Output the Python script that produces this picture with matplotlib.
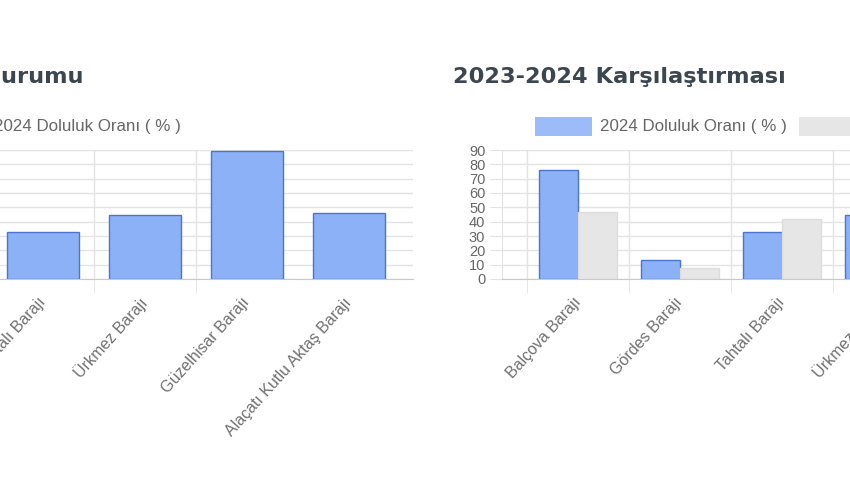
import matplotlib
matplotlib.use("Agg")
import matplotlib.pyplot as plt
from matplotlib.patches import Rectangle
import numpy as np

# Data
dams = ["Balçova Barajı", "Gördes Barajı", "Tahtalı Barajı", "Ürkmez Barajı",
        "Güzelhisar Barajı", "Alaçatı Kutlu Aktaş Barajı"]
fill_2024 = [76, 13, 33, 45, 89, 46]
fill_2023 = [47, 8, 42, 40, 70, 35]
y_ticks = [0, 10, 20, 30, 40, 50, 60, 70, 80, 90]

W, H = 850, 478
BLUE = "#8db1f7"
BLUE_EDGE = "#4a74d2"
GRAY = "#e6e6e6"
GRAY_EDGE = "#dcdcdc"
GRID = "#e3e3e3"
TXT = "#666666"
TITLE = "#3c4650"

plt.rcParams["font.family"] = ["Liberation Sans", "DejaVu Sans"]

fig = plt.figure(figsize=(W / 100, H / 100), dpi=100)
fig.patch.set_facecolor("white")


def fx(px):
    return px / W


def fy(py):
    return 1 - py / H


def make_axes(left_px):
    # plot area 650 px wide, between y=150 (90) and y=279 (0)
    ax = fig.add_axes([fx(left_px), fy(279), 650 / W, 129 / H])
    ax.set_xlim(-0.745, 5.627)
    ax.set_ylim(0, 90)
    ax.set_yticks(y_ticks)
    ax.yaxis.grid(True, color=GRID, lw=1)
    ax.set_axisbelow(True)
    x = np.arange(len(dams))
    ax.set_xticks(x)
    ax.set_xticklabels(dams, rotation=48, ha="right", va="center",
                       rotation_mode="anchor", color="#707070", fontsize=11.5)
    ax.tick_params(axis="x", length=0, pad=15)
    ax.set_xticks(x[:-1] - 0.5, minor=True)
    ax.xaxis.grid(True, which="minor", color=GRID, lw=1)
    ax.tick_params(axis="x", which="minor", length=10, color=GRID)
    ax.tick_params(axis="y", length=9, color=GRID, labelcolor=TXT,
                   labelsize=10.5, pad=3)
    for s in ["top", "right"]:
        ax.spines[s].set_visible(False)
    ax.spines["left"].set_color(GRID)
    ax.spines["bottom"].set_color("#c9c9c9")
    return ax, x


# Left chart (2024 only)
ax1, x = make_axes(-237)
ax1.bar(x, fill_2024, width=0.71, color=BLUE, edgecolor=BLUE_EDGE, lw=1)

# Right chart (2023 vs 2024)
ax2, x = make_axes(502)
bw = 0.385
ax2.bar(x - bw / 2, fill_2024, width=bw, color=BLUE, edgecolor=BLUE_EDGE, lw=1)
ax2.bar(x + bw / 2, fill_2023, width=bw, color=GRAY, edgecolor=GRAY_EDGE, lw=1)

# Titles
fig.text(fx(84), fy(77), "Barajların Doluluk Durumu", ha="right", va="center",
         fontsize=16.2, fontweight="bold", color=TITLE, family="DejaVu Sans")
fig.text(fx(453), fy(77), "2023-2024 Karşılaştırması", ha="left", va="center",
         fontsize=16.2, fontweight="bold", color=TITLE, family="DejaVu Sans")


# Legends
def legend_item(x0, color, label):
    fig.add_artist(Rectangle((fx(x0), fy(136)), 57 / W, 19 / H,
                             transform=fig.transFigure, color=color, lw=0))
    fig.text(fx(x0 + 65), fy(127), label, ha="left", va="center",
             fontsize=12.2, color=TXT)


legend_item(-71, "#9bbcf8", "2024 Doluluk Oranı ( % )")
legend_item(535, "#9bbcf8", "2024 Doluluk Oranı ( % )")
legend_item(799, GRAY, "2023 Doluluk Oranı ( % )")

fig.savefig("out.png", dpi=100, facecolor="white")
